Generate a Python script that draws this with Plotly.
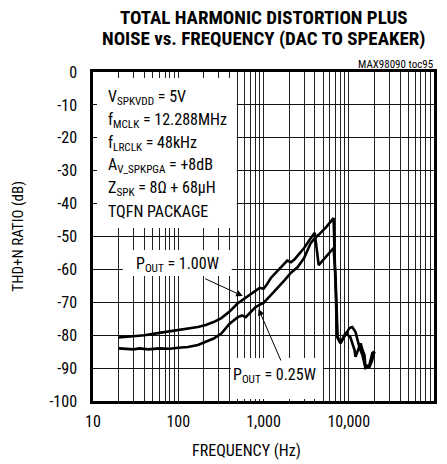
import plotly.graph_objects as go

# THD+N vs frequency, DAC to speaker
freq_100 = [20, 25, 30, 40, 60, 80, 100, 130, 170, 210, 260, 320, 400, 500, 650, 800,
            900, 1000, 1100, 1220, 1480, 1780, 1900, 2100, 2300, 2520, 3000, 3580, 3990,
            4440, 5500, 6640, 7000, 7400, 8000, 8900, 10200, 11000, 12000, 13300, 13800,
            14500, 15300, 15700, 17500, 18900, 20000]
thdn_100 = [-80.7, -80.5, -80.4, -80.0, -79.3, -78.8, -78.4, -78.0, -77.5, -76.9, -76.0,
            -74.8, -72.8, -70.3, -68.2, -66.8, -65.6, -65.9, -64.5, -62.6, -60.3, -58.0,
            -57.3, -57.8, -57.0, -55.8, -53.5, -50.5, -48.9, -58.7, -56.0, -53.5, -62.0,
            -80.5, -82.4, -80.5, -77.8, -77.5, -79.0, -83.5, -82.5, -84.5, -86.0, -89.6,
            -89.0, -85.4, -85.0]

freq_025 = [20, 25, 30, 35, 45, 60, 80, 100, 130, 170, 210, 260, 320, 400, 500, 560, 620,
            700, 800, 940, 1000, 1220, 1480, 1780, 2100, 2520, 3000, 3580, 3990, 4440,
            5500, 6640, 6900, 7300, 8000, 9130, 10400, 11700, 12000, 13300, 14460, 15260,
            15700, 17460, 18900, 20000]
thdn_025 = [-84.0, -84.2, -84.3, -84.0, -84.3, -84.0, -84.1, -83.8, -83.6, -83.0, -82.0,
            -81.0, -79.5, -76.5, -74.5, -74.0, -74.5, -73.0, -71.5, -70.5, -70.2, -67.8,
            -65.5, -63.2, -61.0, -59.3, -56.5, -52.0, -50.5, -49.5, -47.0, -44.4, -60.0,
            -80.5, -82.4, -79.4, -80.5, -84.5, -86.6, -83.5, -86.0, -89.0, -90.0, -89.7,
            -87.5, -85.0]

x_tickvals = [10, 100, 1000, 10000, 100000]
x_ticktext = ["10", "100", "1,000", "10,000", "100,000"]
y_tickvals = [0, -10, -20, -30, -40, -50, -60, -70, -80, -90, -100]
y_ticktext = ["0", "-10", "-20", "-30", "-40", "-50", "-60", "-70", "-80", "-90", "-100"]

title_lines = ["TOTAL HARMONIC DISTORTION PLUS", "NOISE vs. FREQUENCY (DAC TO SPEAKER)"]
cond_lines = [
    "V<sub>SPKVDD</sub> = 5V",
    "f<sub>MCLK</sub> = 12.288MHz",
    "f<sub>LRCLK</sub> = 48kHz",
    "A<sub>V_SPKPGA</sub> = +8dB",
    "Z<sub>SPK</sub> = 8Ω + 68μH",
    "TQFN PACKAGE",
]

FONT = "Roboto Condensed, Liberation Sans, sans-serif"

# page body has an 8px margin, so the figure is drawn 8px in from the corner
OFF = 8
W, H = 447 - OFF, 464 - OFF
L, T = 93 - OFF, 72 - OFF
R, B = W - (437 - OFF), H - (401 - OFF)
pw, ph = W - L - R, H - T - B


def px(x):
    # window pixel -> paper x
    return (x - OFF - L) / pw


def py(y):
    # window pixel -> paper y
    return (H - B - (y - OFF)) / ph


fig = go.Figure()

for f, v in [(freq_100, thdn_100), (freq_025, thdn_025)]:
    fig.add_trace(
        go.Scatter(
            x=f,
            y=v,
            mode="lines",
            line=dict(color="black", width=2.6),
            showlegend=False,
        )
    )

# white boxes behind the labels
for x0, x1, y0, y1 in [(97, 238, 78, 228), (123, 233, 250, 276), (232, 325, 358, 399)]:
    fig.add_shape(
        type="rect", xref="paper", yref="paper",
        x0=px(x0), x1=px(x1), y0=py(y1), y1=py(y0),
        fillcolor="white", line=dict(width=0), layer="above",
    )


def label(x, y, text, size=16, xanchor="center", **kw):
    fig.add_annotation(
        xref="paper", yref="paper", x=px(x), y=py(y),
        text=text, showarrow=False, xanchor=xanchor, yanchor="middle",
        font=dict(family=FONT, size=size, color="black"), **kw,
    )


for i, txt in enumerate(title_lines):
    label(265, 18 + i * 21, "<b>" + txt + "</b>", size=19)

for i, txt in enumerate(cond_lines):
    label(106, 98 + i * 22.6, txt, xanchor="left")

label(178, 264, "P<sub>OUT</sub> = 1.00W")
label(276, 375, "P<sub>OUT</sub> = 0.25W")

# arrows
for hx, hy, tx, ty in [(244, 296, 205, 278), (260, 309, 283, 362)]:
    fig.add_annotation(
        xref="paper", yref="paper", x=px(hx), y=py(hy),
        ax=tx - hx, ay=ty - hy, text="", showarrow=True,
        arrowhead=2, arrowsize=1.3, arrowwidth=1, arrowcolor="black",
    )

label(438, 64, "MAX98090 toc95", size=11, xanchor="right")

# axis titles
label(17, 236, "THD+N RATIO (dB)", size=15, textangle=-90)
label(248, 450, "FREQUENCY (Hz)")

fig.update_layout(
    width=W,
    height=H,
    margin=dict(l=L, r=R, t=T, b=B),
    paper_bgcolor="white",
    plot_bgcolor="white",
    font=dict(family=FONT, size=16, color="black"),
)

fig.update_xaxes(
    type="log",
    range=[1, 5],
    tickmode="array",
    tickvals=x_tickvals,
    ticktext=x_ticktext,
    ticks="",
    ticklabelstandoff=4,
    showgrid=True,
    gridcolor="#222",
    gridwidth=1.2,
    minor=dict(dtick="D1", showgrid=True, gridcolor="#222", gridwidth=1.2, ticks=""),
    showline=True,
    linecolor="black",
    linewidth=2.5,
    mirror=True,
    zeroline=False,
    tickfont=dict(size=16),
)

fig.update_yaxes(
    range=[-100, 0],
    tickmode="array",
    tickvals=y_tickvals,
    ticktext=y_ticktext,
    ticks="",
    ticklabelstandoff=10,
    showgrid=True,
    gridcolor="#111",
    gridwidth=1.2,
    showline=True,
    linecolor="black",
    linewidth=2.5,
    mirror=True,
    zeroline=False,
    tickfont=dict(size=16),
)

fig.write_html("out.html")
